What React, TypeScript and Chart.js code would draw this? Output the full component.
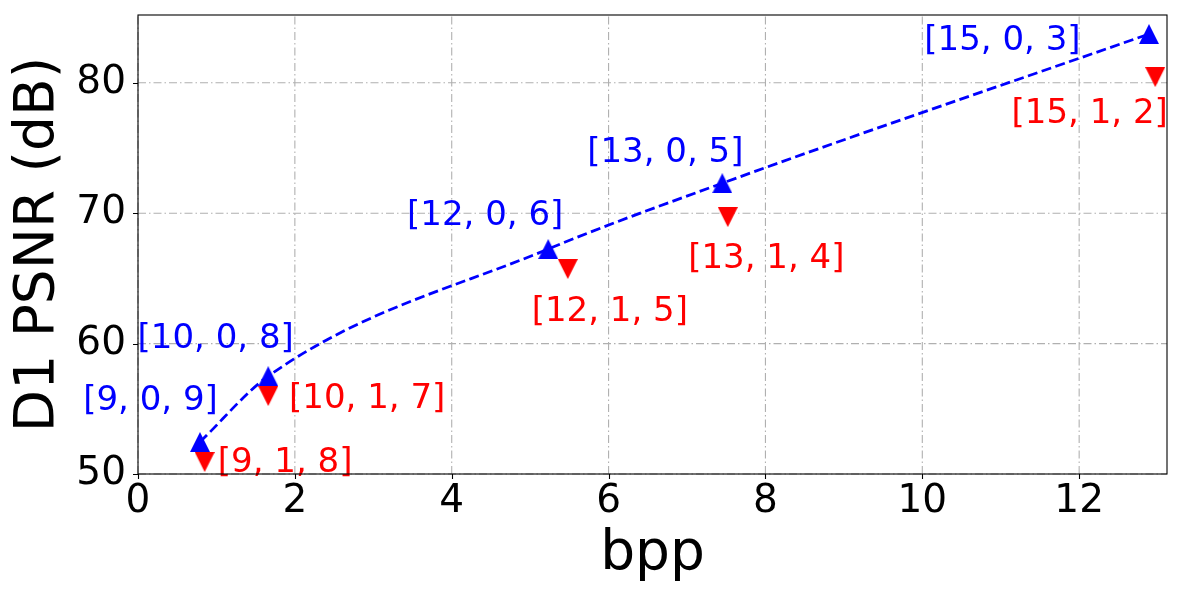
import React, { useEffect, useRef } from "react";
import { Chart, registerables } from "chart.js";

Chart.register(...registerables);

// ---- data ----
const bppUp = [0.79, 1.66, 5.23, 7.45, 12.89];
const psnrUp = [52.45, 57.5, 67.25, 72.3, 83.74];
const labelsUp = ["[9, 0, 9]", "[10, 0, 8]", "[12, 0, 6]", "[13, 0, 5]", "[15, 0, 3]"];

const bppDown = [0.85, 1.66, 5.48, 7.52, 12.97];
const psnrDown = [50.92, 55.98, 65.72, 69.7, 80.44];
const labelsDown = ["[9, 1, 8]", "[10, 1, 7]", "[12, 1, 5]", "[13, 1, 4]", "[15, 1, 2]"];

const xTicks = [0, 2, 4, 6, 8, 10, 12];
const yTicks = [50, 60, 70, 80];

// label placement (text centre offset from the marker, px)
const offsetsUp: [number, number][] = [[-49.5, -44], [-52.5, -40.5], [-63, -36.5], [-57, -33.5], [-146.5, 3.5]];
const offsetsDown: [number, number][] = [[80.5, -2.5], [99, 0], [42, 40], [38.5, 38.5], [-65.5, 34]];

const FONT = "'DejaVu Sans', sans-serif";
const BLUE = "#0000ff";
const RED = "#ff0000";

function makeTriangle(color: string, up: boolean): HTMLCanvasElement {
  const s = 20;
  const c = document.createElement("canvas");
  c.width = s;
  c.height = s;
  const g = c.getContext("2d")!;
  g.fillStyle = color;
  g.beginPath();
  if (up) {
    g.moveTo(s / 2, 0);
    g.lineTo(s, s);
    g.lineTo(0, s);
  } else {
    g.moveTo(0, 0);
    g.lineTo(s, 0);
    g.lineTo(s / 2, s);
  }
  g.closePath();
  g.fill();
  return c;
}

export default function App() {
  const ref = useRef<HTMLCanvasElement | null>(null);

  useEffect(() => {
    if (!ref.current) return;
    const upImg = makeTriangle(BLUE, true);
    const downImg = makeTriangle(RED, false);

    const gridPlugin = {
      id: "mplGrid",
      beforeDatasetsDraw(chart: any) {
        const { ctx, chartArea: a, scales } = chart;
        ctx.save();
        ctx.strokeStyle = "#b0b0b0";
        ctx.lineWidth = 1.1;
        ctx.setLineDash([8, 3, 1.5, 3]);
        for (const v of xTicks) {
          const x = scales.x.getPixelForValue(v);
          ctx.beginPath();
          ctx.moveTo(x, a.bottom);
          ctx.lineTo(x, a.top);
          ctx.stroke();
        }
        for (const v of yTicks) {
          const y = scales.y.getPixelForValue(v);
          ctx.beginPath();
          ctx.moveTo(a.left, y);
          ctx.lineTo(a.right, y);
          ctx.stroke();
        }
        ctx.restore();
      },
      afterDatasetsDraw(chart: any) {
        const { ctx, chartArea: a, scales } = chart;
        ctx.save();
        // annotations
        ctx.font = `34px ${FONT}`;
        ctx.textAlign = "center";
        ctx.textBaseline = "alphabetic";
        const drawLabels = (xs: number[], ys: number[], texts: string[], offs: [number, number][], color: string) => {
          ctx.fillStyle = color;
          xs.forEach((xv, i) => {
            const px = scales.x.getPixelForValue(xv) + offs[i][0];
            const py = scales.y.getPixelForValue(ys[i]) + offs[i][1] + 34 * 0.365;
            ctx.fillText(texts[i], px, py);
          });
        };
        drawLabels(bppUp, psnrUp, labelsUp, offsetsUp, BLUE);
        drawLabels(bppDown, psnrDown, labelsDown, offsetsDown, RED);

        // frame
        ctx.setLineDash([]);
        ctx.strokeStyle = "#000";
        ctx.lineWidth = 1.1;
        ctx.strokeRect(a.left, a.top, a.right - a.left, a.bottom - a.top);
        // tick marks
        ctx.beginPath();
        for (const v of xTicks) {
          const x = Math.round(scales.x.getPixelForValue(v)) + 0.5;
          ctx.moveTo(x, a.bottom);
          ctx.lineTo(x, a.bottom + 5);
        }
        for (const v of yTicks) {
          const y = Math.round(scales.y.getPixelForValue(v)) + 0.5;
          ctx.moveTo(a.left, y);
          ctx.lineTo(a.left - 5, y);
        }
        ctx.stroke();
        ctx.restore();
      },
    };

    const chart = new Chart(ref.current, {
      type: "scatter",
      data: {
        datasets: [
          {
            data: bppUp.map((x, i) => ({ x, y: psnrUp[i] })),
            showLine: true,
            borderColor: BLUE,
            borderWidth: 2.8,
            borderDash: [10, 4.5],
            cubicInterpolationMode: "monotone",
            pointStyle: upImg as any,
            pointRadius: 10,
            backgroundColor: BLUE,
            clip: false as any,
          },
          {
            data: bppDown.map((x, i) => ({ x, y: psnrDown[i] })),
            showLine: false,
            borderColor: RED,
            backgroundColor: RED,
            pointStyle: downImg as any,
            pointRadius: 10,
            clip: false as any,
          },
        ],
      },
      options: {
        animation: false,
        responsive: false,
        devicePixelRatio: 1,
        layout: { padding: { top: 15, right: 33, left: 0, bottom: 0 } },
        plugins: { legend: { display: false }, tooltip: { enabled: false } },
        scales: {
          x: {
            type: "linear",
            min: 0,
            max: 13.12,
            afterBuildTicks: (s: any) => {
              s.ticks = xTicks.map((v) => ({ value: v }));
            },
            afterFit: (s: any) => {
              s.height = 126;
              s.paddingLeft = 0;
              s.paddingRight = 0;
              s.paddingTop = 0;
              s.paddingBottom = 0;
            },
            grid: { display: false, drawTicks: false },
            border: { display: false },
            ticks: {
              color: "#000",
              font: { family: FONT, size: 39 },
              padding: 4,
              maxRotation: 0,
              autoSkip: false,
              callback: (v: any) => String(v),
            },
            title: {
              display: true,
              text: "bpp",
              color: "#000",
              font: { family: FONT, size: 55 },
              padding: { top: 0, bottom: 12 },
            },
          },
          y: {
            type: "linear",
            min: 50,
            max: 85.2,
            afterBuildTicks: (s: any) => {
              s.ticks = yTicks.map((v) => ({ value: v }));
            },
            afterFit: (s: any) => {
              s.width = 138;
              s.paddingLeft = 0;
              s.paddingRight = 0;
              s.paddingTop = 0;
              s.paddingBottom = 0;
            },
            grid: { display: false, drawTicks: false },
            border: { display: false },
            ticks: {
              color: "#000",
              font: { family: FONT, size: 39 },
              padding: 12,
              autoSkip: false,
              callback: (v: any) => String(v),
            },
            title: {
              display: true,
              text: "D1 PSNR (dB)",
              color: "#000",
              font: { family: FONT, size: 55 },
              padding: { top: 6, bottom: 0 },
            },
          },
        },
      },
      plugins: [gridPlugin],
    });

    return () => chart.destroy();
  }, []);

  return (
    <div style={{ position: "absolute", left: 0, top: 0, width: 1200, height: 600, background: "#fff" }}>
      <canvas ref={ref} width={1200} height={600} style={{ display: "block" }} />
    </div>
  );
}
